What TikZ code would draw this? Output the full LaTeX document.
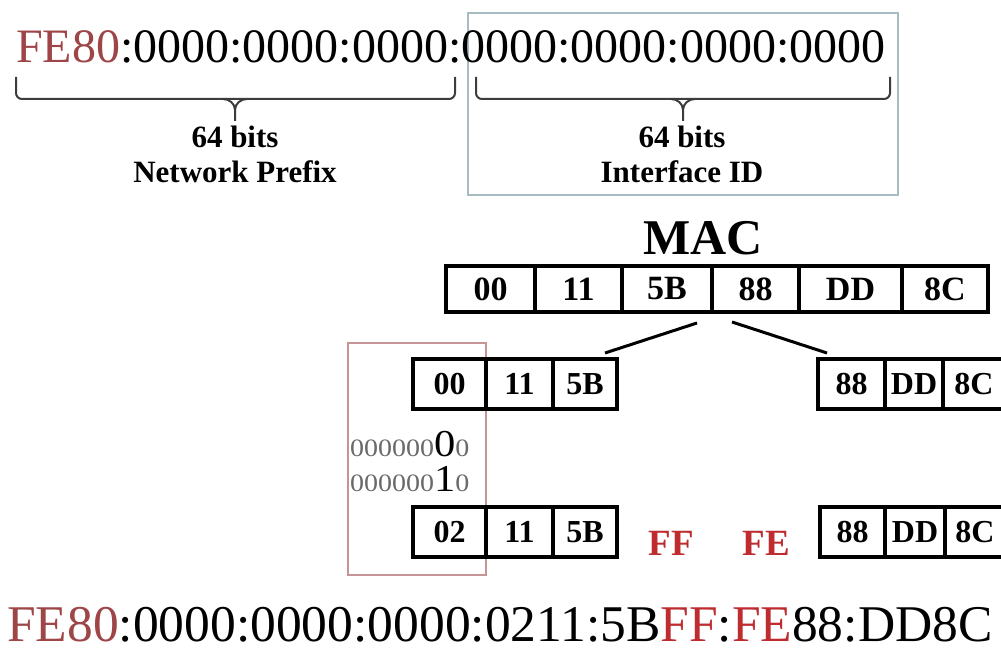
\documentclass[tikz,border=0pt]{standalone}
\usepackage{fontspec}
\setmainfont{Liberation Serif}
\usetikzlibrary{positioning, calc}
\definecolor{prefixcol}{HTML}{9E4548}
\definecolor{fillcol}{HTML}{BE2C30}
\definecolor{idframe}{HTML}{A6BCC1}
\definecolor{flipframe}{HTML}{C69494}
\definecolor{bitgray}{HTML}{6A6A6A}
\definecolor{bracecol}{HTML}{3C3C3C}
\newcommand{\fs}[1]{\fontsize{#1}{#1}\selectfont}

\begin{document}
\begin{tikzpicture}[x=1pt, y=-1pt,
  cell/.style={draw, fill=white, line width=3.3pt, outer sep=0pt, inner sep=0pt, minimum height=46pt, font=\bfseries\fs{34}},
  subcell/.style={cell, minimum height=50pt, font=\bfseries\fs{32}},
  addr/.style={anchor=base west, inner sep=0pt},
  bits/.style={anchor=base, inner sep=0pt, font=\bfseries\fs{31}},
  bracket/.style={draw=bracecol, line width=2pt, rounded corners=6pt},
  split/.style={line width=3pt},
  filler/.style={anchor=base, inner sep=0pt, text=fillcol, font=\bfseries\fs{37}}
]
\useasboundingbox (0,0) rectangle (1001,660);

% link-local address and its two halves
\draw[idframe, line width=1.6pt] (468,13) rectangle (898,195);
\node[addr] (linklocal) at (16,63) {\fs{48}\textcolor{prefixcol}{FE80}:0000:0000:0000:0000:0000:0000:0000};

\draw[bracket] (16,77) |- (455,99) -- (455,77);
\draw[bracket, rounded corners=0pt] (223,99) to[out=0,in=90] (235,110) -- (235,121);
\draw[bracket, rounded corners=0pt] (247,99) to[out=180,in=90] (235,110);
\draw[bracket] (476,77) |- (890,99) -- (890,77);
\draw[bracket, rounded corners=0pt] (671,99) to[out=0,in=90] (683,110) -- (683,121);
\draw[bracket, rounded corners=0pt] (695,99) to[out=180,in=90] (683,110);

\node[bits] (netbits) at (235,148) {64 bits};
\node[bits] (netname) at (235,183) {Network Prefix};
\node[bits] (idbits) at (682,148) {64 bits};
\node[bits] (idname) at (682,183) {Interface ID};

% MAC address
\node[anchor=base, inner sep=0pt, font=\bfseries\fs{50}] (mactitle) at (703,255) {MAC};
\node[cell, minimum width=89pt] (mac1) at (490.5,289) {00};
\node[cell, minimum width=87pt, right=0pt of mac1] (mac2) {11};
\node[cell, minimum width=90pt, right=0pt of mac2] (mac3) {5B};
\node[cell, minimum width=87pt, right=0pt of mac3] (mac4) {88};
\node[cell, minimum width=103pt, right=0pt of mac4] (mac5) {DD};
\node[cell, minimum width=86pt, right=0pt of mac5] (mac6) {8C};

% flipped bit
\draw[flipframe, line width=2.2pt] (348,343) rectangle (486,575);
\node[anchor=base west, inner sep=0pt] (bitsold) at (350,456)
  {\scalebox{1.12}[1]{{\color{bitgray}\fs{25}000000}{\fs{38}0}{\color{bitgray}\fs{25}0}}};
\node[anchor=base west, inner sep=0pt] (bitsnew) at (350,491)
  {\scalebox{1.12}[1]{{\color{bitgray}\fs{25}000000}{\fs{38}1}{\color{bitgray}\fs{25}0}}};

% split halves
\node[subcell, minimum width=73pt] (low1) at (449.5,384) {00};
\node[subcell, minimum width=67pt, right=0pt of low1] (low2) {11};
\node[subcell, minimum width=64pt, right=0pt of low2] (low3) {5B};
\node[subcell, minimum width=67pt] (high1) at (851.5,384) {88};
\node[subcell, minimum width=58pt, right=0pt of high1] (high2) {DD};
\node[subcell, minimum width=62pt, right=0pt of high2] (high3) {8C};

\draw[split] ($(mac3.south east)+(-15,11)$) -- ($(low3.north east)+(-12,-6)$);
\draw[split] ($(mac4.south west)+(20,10)$) -- ($(high1.north west)+(9,-6)$);

% EUI-64 interface id
\node[subcell, minimum width=73pt] (eui1) at (449.5,532) {02};
\node[subcell, minimum width=67pt, right=0pt of eui1] (eui2) {11};
\node[subcell, minimum width=64pt, right=0pt of eui2] (eui3) {5B};
\node[filler] (ff) at (671.5,555) {FF};
\node[filler] (fe) at (766.5,555) {FE};
\node[subcell, minimum width=65pt] (eui4) at (852.5,532) {88};
\node[subcell, minimum width=60pt, right=0pt of eui4] (eui5) {DD};
\node[subcell, minimum width=60pt, right=0pt of eui5] (eui6) {8C};

\node[addr] (eui) at (7,641) {\fs{51.5}\textcolor{prefixcol}{FE80}:0000:0000:0000:0211:5B\textcolor{fillcol}{FF}:\textcolor{fillcol}{FE}88:DD8C};
\end{tikzpicture}
\end{document}
